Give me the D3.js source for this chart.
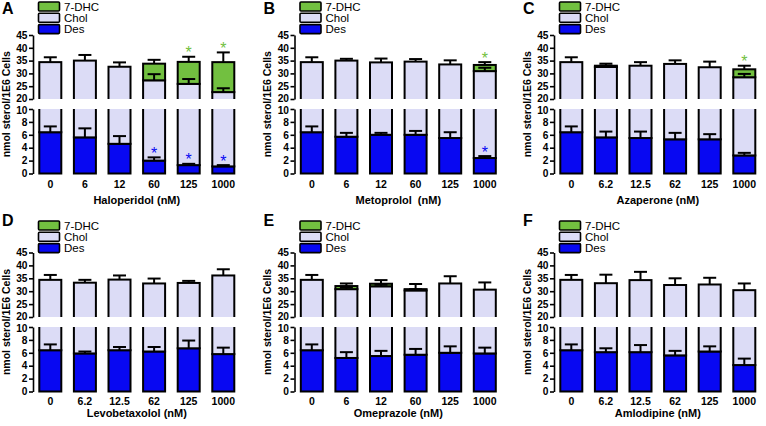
<!DOCTYPE html>
<html><head><meta charset="utf-8">
<script src="https://cdn.jsdelivr.net/npm/d3@7"></script>
<style>
body{margin:0;background:#fff}
svg{display:block}
text{font-family:"Liberation Sans",Arial,Helvetica,sans-serif}
</style></head><body>
<script>
// ---------- data ----------
const panelLetters = ["A","B","C","D","E","F"];
const drugTitles = ["Haloperidol (nM)","Metoprolol  (nM)","Azaperone (nM)","Levobetaxolol (nM)","Omeprazole (nM)","Amlodipine (nM)"];
const doseLabels = [
  ["0","6","12","60","125","1000"],
  ["0","6","12","60","125","1000"],
  ["0","6.2","12.5","62","125","1000"],
  ["0","6.2","12.5","62","125","1000"],
  ["0","6","12","60","125","1000"],
  ["0","6.2","12.5","62","125","1000"]
];
const seriesNames = ["7-DHC","Chol","Des"];
// Des (bottom segment), nmol sterol / 1E6 cells
const desValues = [
  [6.4,5.6,4.6,2.0,1.3,1.1],
  [6.4,5.7,6.0,6.0,5.5,2.4],
  [6.4,5.6,5.5,5.3,5.3,2.8],
  [6.4,5.9,6.4,6.2,6.7,5.8],
  [6.4,5.2,5.5,5.7,6.0,5.9],
  [6.4,6.1,6.1,5.6,6.2,4.1]
];
const desErrors = [
  [0.9,1.4,1.2,0.5,0.2,0.2],
  [0.9,0.6,0.3,0.6,0.9,0.3],
  [0.9,0.9,1.0,1.0,0.8,0.4],
  [0.9,0.3,0.5,0.7,1.2,1.0],
  [0.9,0.9,0.8,0.9,1.0,0.9],
  [0.9,0.6,1.1,0.7,0.8,1.0]
];
// Chol (stacked on Des)
const cholValues = [
  [28.0,29.4,28.0,25.3,24.6,21.6],
  [28.0,29.3,28.3,28.6,28.0,28.5],
  [28.0,26.9,27.5,28.4,27.1,25.7],
  [28.0,27.4,28.1,26.8,26.5,30.3],
  [28.0,25.6,26.4,24.6,27.0,24.7],
  [28.0,27.0,28.2,26.8,26.4,26.3]
];
const cholErrors = [
  [1.9,2.2,1.7,2.4,1.9,1.5],
  [1.9,0.7,1.5,1.0,1.6,1.3],
  [1.9,0.5,1.4,1.4,2.2,1.3],
  [1.9,1.1,1.6,1.9,0.8,2.4],
  [1.9,0.6,0.6,0.5,2.8,2.8],
  [1.9,3.3,3.2,2.6,2.6,2.6]
];
// 7-DHC (stacked on Chol)
const dhcValues = [
  [0,0,0,6.5,8.6,11.7],
  [0,0,0,0,0,2.4],
  [0,0.5,0,0,0,3.1],
  [0,0,0,0,0,0],
  [0,1.2,1.0,0.5,0,0],
  [0,0,0,0,0,0]
];
const dhcErrors = [
  [0,0,0,1.5,2.0,3.8],
  [0,0,0,0,0,1.1],
  [0,0.8,0,0,0,1.4],
  [0,0,0,0,0,0],
  [0,1.0,1.4,2.0,0,0],
  [0,0,0,0,0,0]
];
// significance markers (bar indices)
const dhcStars = [[4,5],[5],[5],[],[],[]];
const desStars = [[3,4,5],[5],[],[],[],[]];
const upperTicks = [20,25,30,35,40,45];
const lowerTicks = [0,2,4,6,8,10];

// ---------- layout ----------
const W = 766, H = 426;
const colors = {des:"#0808f2", chol:"#dcdcf6", dhc:"#72c040"};
const keys = ["des","chol","dhc"];
const axisXs = [33, 294.5, 554];
const rowGeom = [
  {top:0,   upper:[99,35],    lower:[173.5,109], letterY:14,  labelY:188, titleY:203.5},
  {top:219, upper:[317,252.5], lower:[391.5,327], letterY:226, labelY:404.5, titleY:417}
];
const plotW = 207.6, barW = 22;

const svg = d3.select("body").append("svg").attr("width", W).attr("height", H);
const defs = svg.append("defs");

for (let p = 0; p < 6; p++) {
  const row = p < 3 ? 0 : 1, col = p % 3;
  const G = rowGeom[row];
  const ax = axisXs[col];
  const yU = d3.scaleLinear().domain([20,45]).range(G.upper);
  const yL = d3.scaleLinear().domain([0,10]).range(G.lower);
  const x = d3.scalePoint().domain(doseLabels[p]).range([ax, ax + plotW]).padding(0.5);
  const g = svg.append("g");

  const data = doseLabels[p].map((d,i) => ({dose:d, des:desValues[p][i], chol:cholValues[p][i], dhc:dhcValues[p][i]}));
  const errs = {des:desErrors[p], chol:cholErrors[p], dhc:dhcErrors[p]};
  const stacked = d3.stack().keys(keys)(data);

  // clip paths for the two axis segments
  defs.append("clipPath").attr("id","cu"+p).append("rect")
    .attr("x", ax+1).attr("y", G.top).attr("width", plotW+10).attr("height", yU(20) - G.top);
  defs.append("clipPath").attr("id","cl"+p).append("rect")
    .attr("x", ax+1).attr("y", yL(10)).attr("width", plotW+10).attr("height", yL(0) - yL(10) + 3);

  [[yU,"cu"],[yL,"cl"]].forEach(([ys, cid]) => {
    const seg = g.append("g").attr("clip-path", `url(#${cid}${p})`);
    stacked.forEach(s => {
      seg.selectAll(null).data(s.filter(d => d[1] - d[0] > 0)).enter().append("rect")
        .attr("x", d => x(d.data.dose) - barW/2)
        .attr("width", barW)
        .attr("y", d => ys(d[1]))
        .attr("height", d => ys(d[0]) - ys(d[1]))
        .attr("fill", colors[s.key])
        .attr("stroke", "#000").attr("stroke-width", 2);
    });
  });

  // error bars (upward)
  stacked.forEach(s => {
    s.forEach((d,i) => {
      const e = errs[s.key][i];
      if (!(e > 0) || d[1] - d[0] <= 0) return;
      const top = d[1], cap = d[1] + e;
      const ys = top >= 20 ? yU : yL;
      const cx = x(d.data.dose);
      g.append("line").attr("x1",cx).attr("x2",cx).attr("y1",ys(top)).attr("y2",ys(cap))
        .attr("stroke","#000").attr("stroke-width",2);
      g.append("line").attr("x1",cx-6.5).attr("x2",cx+6.5).attr("y1",ys(cap)).attr("y2",ys(cap))
        .attr("stroke","#000").attr("stroke-width",2);
    });
  });

  // stars
  const topOf = (key,i) => stacked[keys.indexOf(key)][i][1] + errs[key][i];
  dhcStars[p].forEach(i => {
    g.append("text").attr("x", x(doseLabels[p][i])).attr("y", yU(topOf("dhc",i)) + 1.5)
      .attr("text-anchor","middle").attr("font-size",16).attr("fill", colors.dhc).text("*");
  });
  desStars[p].forEach(i => {
    g.append("text").attr("x", x(doseLabels[p][i])).attr("y", yL(topOf("des",i)) + 1.5)
      .attr("text-anchor","middle").attr("font-size",16).attr("fill", colors.des).text("*");
  });

  // y axes (broken)
  const styleAxis = (a, edgeVal, shift) => {
    a.selectAll("path").attr("stroke","#000").attr("stroke-width",1.6);
    a.selectAll("line").attr("stroke","#000").attr("stroke-width",1.6);
    a.selectAll("text").attr("font-size",10.2).attr("font-weight","bold").attr("fill","#000")
      .style("font-family",'"Liberation Sans",Arial,sans-serif')
      .attr("y", d => d === edgeVal ? shift : 0);
  };
  g.append("g").attr("transform",`translate(${ax},0)`)
    .call(d3.axisLeft(yU).tickValues(upperTicks).tickSize(4).tickSizeOuter(0).tickPadding(1.5))
    .call(a => styleAxis(a, 20, -1));
  g.append("g").attr("transform",`translate(${ax},0)`)
    .call(d3.axisLeft(yL).tickValues(lowerTicks).tickSize(4).tickSizeOuter(0).tickPadding(1.5))
    .call(a => styleAxis(a, 10, 1));

  // x labels
  g.selectAll(null).data(doseLabels[p]).enter().append("text")
    .attr("x", d => x(d)).attr("y", G.labelY).attr("text-anchor","middle")
    .attr("font-size",10.5).attr("font-weight","bold").text(d => d);

  // x title
  g.append("text").attr("x", ax + plotW/2).attr("y", G.titleY).attr("text-anchor","middle")
    .attr("font-size",11).attr("font-weight","bold").style("white-space","pre").text(drugTitles[p]);

  // y title
  const ym = (yU(45) + yL(0)) / 2;
  g.append("text").attr("transform",`translate(${ax-23.5},${ym}) rotate(-90)`)
    .attr("text-anchor","middle").attr("font-size",10.5).attr("font-weight","bold")
    .text("nmol sterol/1E6 Cells");

  // panel letter
  g.append("text").attr("x", ax - 31).attr("y", G.letterY).attr("font-size",16).attr("font-weight","bold").text(panelLetters[p]);

  // legend
  const legColors = [colors.dhc, colors.chol, colors.des];
  const lx = ax + 5.5;
  seriesNames.forEach((name,k) => {
    g.append("rect").attr("x", lx).attr("y", G.top + 2 + k*11.3).attr("width",21).attr("height",9)
      .attr("fill", legColors[k]).attr("stroke","#000").attr("stroke-width",1.6).attr("rx",1);
    g.append("text").attr("x", lx + 25.5).attr("y", G.top + 10.5 + k*11.3).attr("font-size",11.5).text(name);
  });
}
</script>
</body></html>
